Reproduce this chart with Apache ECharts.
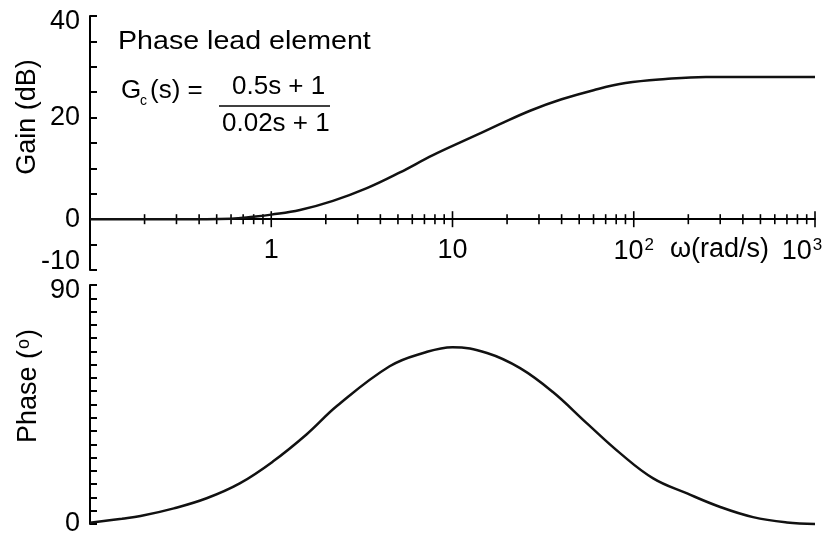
<!DOCTYPE html>
<html>
<head>
<meta charset="utf-8">
<script src="https://cdn.jsdelivr.net/npm/echarts@6/dist/echarts.min.js"></script>
<style>
html,body{margin:0;padding:0;background:#fff;}
#c{width:824px;height:537px;}
</style>
</head>
<body>
<div id="c"></div>
<script>
// ---- data ----
const gainFreq = [0.1, 0.3, 0.6, 0.8, 1, 1.44, 2.19, 3.37, 5.13, 7.8, 12, 18, 27, 40, 60, 90, 150, 250, 1000];
const gainDb   = [0, 0, 0.1, 0.5, 0.9, 1.8, 3.6, 6.1, 9.2, 12.6, 15.7, 18.6, 21.4, 23.6, 25.4, 26.8, 27.6, 28.0, 28.0];

const phaseFreq = [0.1, 0.15, 0.19, 0.29, 0.44, 0.67, 1.02, 1.57, 2.31, 4.5, 6.9, 10, 15.5, 23.6, 35.8, 55, 84, 128, 197, 300, 455, 700, 1000];
const phaseDeg  = [0.5, 2.0, 3.0, 5.9, 9.7, 15.3, 23.5, 33.8, 44.5, 59.4, 64.4, 66.6, 64.4, 58.7, 49.7, 38.0, 26.7, 17.2, 11.5, 6.4, 2.6, 0.6, 0];

const xDecades = [0.1, 1, 10, 100, 1000];
const xTickLabels = {1: '1', 10: '10', 100: '10{s|2}', 1000: '10{s|3}{p|}'};
const xMinorMult = [2, 3, 4, 5, 6, 7, 8, 9];
const gainTickLabels = {'40': '{dn|40}', '20': '20', '0': '0', '-10': '{up|-10}'};
const phaseTickLabels = {'90': '{dn|90}', '0': '0'};
const gainName = 'Gain (dB)';
const phaseName = 'Phase ({o|o})';
const axisXName = 'ω(rad/s)';
const titleText = 'Phase lead element';

// ---- build ----
const FONT = 'Liberation Sans, Arial, sans-serif';
const gainData = gainFreq.map((f, i) => [f, gainDb[i]]);
const phaseData = phaseFreq.map((f, i) => [f, phaseDeg[i]]);
const tickData = [];
xDecades.forEach((d, i) => {
  if (i > 0) tickData.push([d, 0, 1]);
  if (i < xDecades.length - 1) xMinorMult.forEach(m => tickData.push([d * m, 0, 0]));
});

function labelFor(v) {
  for (const k in xTickLabels) {
    if (Math.abs(Math.log10(v) - Math.log10(+k)) < 1e-6) return xTickLabels[k];
  }
  return '';
}
const yRich = {
  up: {fontSize: 27, fontFamily: FONT, color: '#000', padding: [0, 0, 16, 0]},
  dn: {fontSize: 27, fontFamily: FONT, color: '#000', padding: [12, 0, 0, 0]}
};

const GRID1_TOP = 16, GRID1_H = 254, GRID2_TOP = 285, GRID2_H = 239;

const chart = echarts.init(document.getElementById('c'), null, {renderer: 'canvas'});
chart.setOption({
  animation: false,
  backgroundColor: '#fff',
  textStyle: {fontFamily: FONT, color: '#000'},
  grid: [
    {left: 90, right: 9, top: GRID1_TOP, height: GRID1_H, containLabel: false, outerBoundsMode: 'none'},
    {left: 90, right: 9, top: GRID2_TOP, height: GRID2_H, containLabel: false, outerBoundsMode: 'none'}
  ],
  xAxis: [
    {
      gridIndex: 0, type: 'log', logBase: 10, min: 0.1, max: 1000,
      position: 'bottom', offset: -GRID1_H * 10 / 50,
      axisLine: {onZero: false, lineStyle: {color: '#000', width: 2}},
      axisTick: {show: false},
      splitLine: {show: false},
      axisLabel: {
        color: '#000', fontSize: 27, fontFamily: FONT, margin: 18,
        showMinLabel: false,
        formatter: labelFor,
        rich: {
          s: {fontSize: 17, fontFamily: FONT, color: '#000', verticalAlign: 'top', padding: [0, 0, 12, 1]},
          p: {width: 26}
        }
      }
    },
    {
      gridIndex: 1, type: 'log', logBase: 10, min: 0.1, max: 1000, show: false
    }
  ],
  yAxis: [
    {
      gridIndex: 0, type: 'value', min: -10, max: 40, interval: 5,
      axisLine: {show: true, onZero: false, lineStyle: {color: '#000', width: 2}},
      axisTick: {show: true, inside: true, length: 7, lineStyle: {color: '#000', width: 2}},
      splitLine: {show: false},
      axisLabel: {
        color: '#000', fontSize: 27, fontFamily: FONT, margin: 10,
        formatter: v => gainTickLabels[String(v)] || '',
        rich: yRich
      }
    },
    {
      gridIndex: 1, type: 'value', min: 0, max: 90, interval: 5,
      axisLine: {show: true, onZero: false, lineStyle: {color: '#000', width: 2}},
      axisTick: {show: true, inside: true, length: 7, lineStyle: {color: '#000', width: 2}},
      splitLine: {show: false},
      axisLabel: {
        color: '#000', fontSize: 27, fontFamily: FONT, margin: 10,
        formatter: v => phaseTickLabels[String(v)] || '',
        rich: yRich
      }
    }
  ],
  series: [
    {
      type: 'custom', xAxisIndex: 0, yAxisIndex: 0, data: tickData, clip: false,
      renderItem: function (params, api) {
        const p = api.coord([api.value(0), api.value(1)]);
        const len = api.value(2) ? 8 : 5;
        return {type: 'line', shape: {x1: p[0], y1: p[1] - len, x2: p[0], y2: p[1] + len},
          style: {stroke: '#000', lineWidth: 1.6}};
      }
    },
    {
      type: 'line', xAxisIndex: 0, yAxisIndex: 0, data: gainData, smooth: 0.4,
      symbol: 'none', lineStyle: {color: '#111', width: 2.5}
    },
    {
      type: 'line', xAxisIndex: 1, yAxisIndex: 1, data: phaseData, smooth: 0.4,
      symbol: 'none', lineStyle: {color: '#111', width: 2.5}, clip: false
    }
  ],
  graphic: [
    {type: 'text', x: 118, y: 29, scaleX: 1.1, style: {text: titleText, font: '26px ' + FONT, fill: '#000', verticalAlign: 'top'}},
    {type: 'text', x: 121, y: 78, style: {text: 'G', font: '26px ' + FONT, fill: '#000', verticalAlign: 'top'}},
    {type: 'text', x: 140, y: 94, style: {text: 'c', font: '14px ' + FONT, fill: '#000', verticalAlign: 'top'}},
    {type: 'text', x: 150, y: 78, style: {text: '(s) =', font: '26px ' + FONT, fill: '#000', verticalAlign: 'top'}},
    {type: 'line', shape: {x1: 219, y1: 106, x2: 330, y2: 106}, style: {stroke: '#000', lineWidth: 1.5}},
    {type: 'text', x: 232, y: 74, style: {text: '0.5s + 1', font: '26px ' + FONT, fill: '#000', verticalAlign: 'top'}},
    {type: 'text', x: 222, y: 111, style: {text: '0.02s + 1', font: '26px ' + FONT, fill: '#000', verticalAlign: 'top'}},
    {type: 'text', x: 670, y: 250, style: {text: axisXName, font: '27px ' + FONT, fill: '#000', verticalAlign: 'middle'}},
    {type: 'text', x: 28, y: 117, rotation: Math.PI / 2,
      style: {text: gainName, font: '27px ' + FONT, fill: '#000', align: 'center', verticalAlign: 'middle'}},
    {type: 'text', x: 29, y: 386, rotation: Math.PI / 2,
      style: {text: phaseName, font: '27px ' + FONT, fill: '#000', align: 'center', verticalAlign: 'middle',
        rich: {o: {fontSize: 18, fontFamily: FONT, fill: '#000', verticalAlign: 'top', padding: [0, 1, 10, 1]}}}}
  ]
});
</script>
</body>
</html>
